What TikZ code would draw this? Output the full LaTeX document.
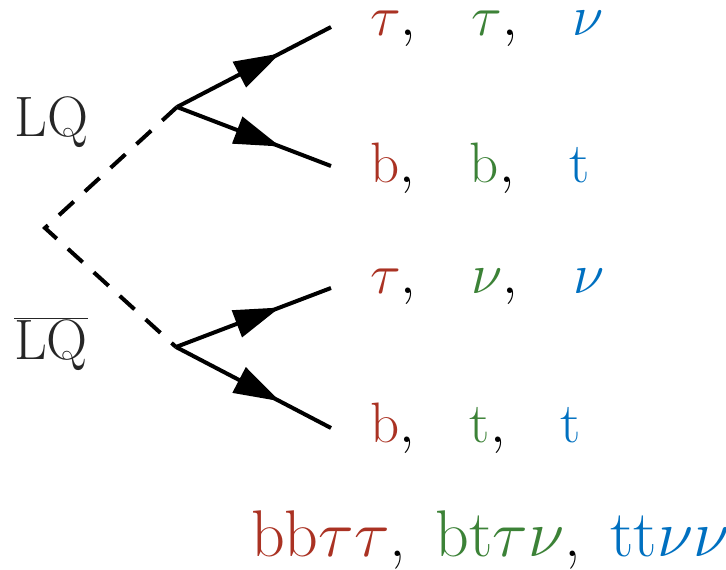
\documentclass[tikz,border=0pt]{standalone}
\usepackage{fix-cm}
\usepackage{xcolor}
\definecolor{lqred}{RGB}{170,50,35}
\definecolor{lqgreen}{RGB}{60,130,55}
\definecolor{lqblue}{RGB}{0,112,192}
\newcommand{\rd}[1]{\textcolor{lqred}{#1}}
\newcommand{\gr}[1]{\textcolor{lqgreen}{#1}}
\newcommand{\bl}[1]{\textcolor{lqblue}{#1}}
\newcommand{\colsep}{,\hspace{0.8em}}
\usetikzlibrary{arrows.meta,decorations.markings}
\tikzset{
  scalar/.style={line width=4pt,dash pattern=on 20pt off 15pt},
  fermion/.style={line width=4pt,postaction={decorate},
    decoration={markings,
      mark=at position 0.67 with {\arrow{Triangle[length=46pt,width=28pt]}}}},
  lbl/.style={inner sep=0pt,anchor=base west,font=\fontsize{57}{62}\selectfont},
}
\begin{document}
\begin{tikzpicture}[x=1pt,y=-1pt]
  \useasboundingbox (0,0) rectangle (726,570);
  % vertices and outgoing ends
  \coordinate (prod) at (45,228);
  \coordinate (decA) at (177,107);
  \coordinate (decB) at (176,347);
  \coordinate (endA1) at (331,27);
  \coordinate (endA2) at (331,166);
  \coordinate (endB1) at (331,288);
  \coordinate (endB2) at (331,428);

  % leptoquark pair
  \draw[scalar] (decA) -- (prod) -- (decB);
  \draw[fermion] (decA) -- (endA1);
  \draw[fermion] (decA) -- (endA2);
  \draw[fermion] (decB) -- (endB1);
  \draw[fermion] (decB) -- (endB2);

  \node[lbl,text=black!85] (lq) at (14,136) {LQ};
  \node[lbl,text=black!85] (lqbar) at (14,359) {$\overline{\mathrm{LQ}}$};

  % decay products
  \node[lbl] (rowA1) at (370,35) {$\rd{\tau}\colsep\gr{\tau}\colsep\bl{\nu}$};
  \node[lbl] (rowA2) at (370,182) {$\rd{\mathrm{b}}\colsep\gr{\mathrm{b}}\colsep\bl{\mathrm{t}}$};
  \node[lbl] (rowB1) at (370,293) {$\rd{\tau}\colsep\gr{\nu}\colsep\bl{\nu}$};
  \node[lbl] (rowB2) at (370,442) {$\rd{\mathrm{b}}\colsep\gr{\mathrm{t}}\colsep\bl{\mathrm{t}}$};

  % final states
  \node[lbl,font=\fontsize{66}{72}\selectfont] (final) at (251,556)
    {$\rd{\mathrm{bb}\tau\tau}$,\hspace{0.45em}$\gr{\mathrm{bt}\tau\nu}$,\hspace{0.45em}$\bl{\mathrm{tt}\nu\nu}$};
\end{tikzpicture}
\end{document}
